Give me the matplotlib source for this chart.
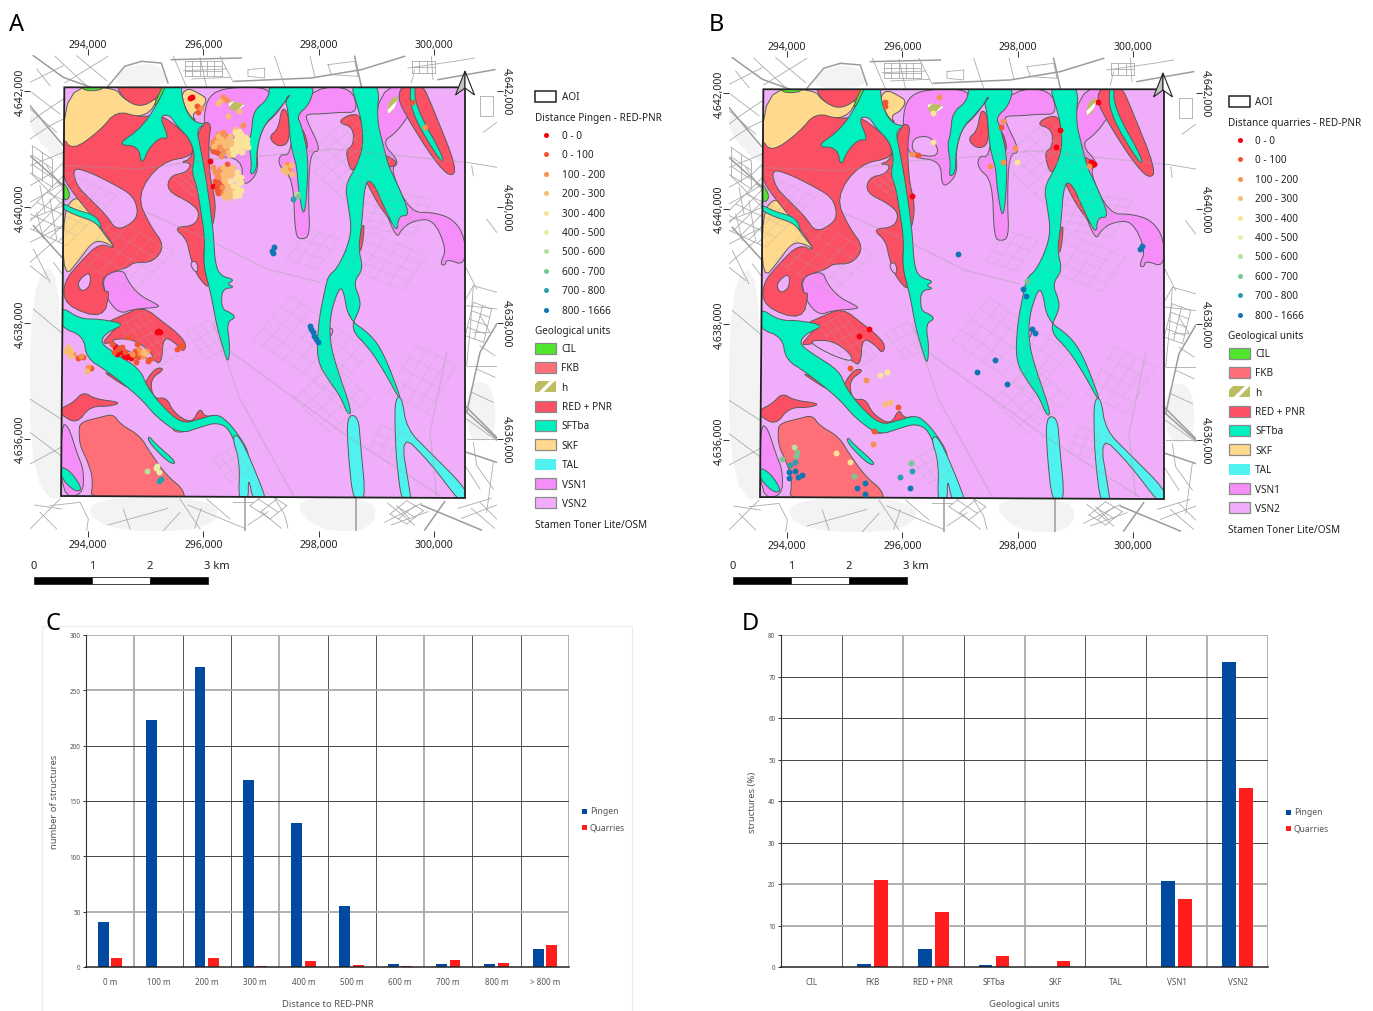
import matplotlib
matplotlib.use('Agg')
import matplotlib.pyplot as plt
from matplotlib.patches import Polygon, Rectangle
from matplotlib.ticker import FuncFormatter
from matplotlib.transforms import ScaledTranslation

plt.rcParams['font.family'] = ['Noto Sans', 'DejaVu Sans']
plt.rcParams['hatch.linewidth'] = 2.5

W, H = 1373, 1012

# ---------- bar chart data ----------
dist_labels = ['0 m', '100 m', '200 m', '300 m', '400 m', '500 m', '600 m', '700 m', '800 m', '> 800 m']
dist_pingen = [41, 223, 271, 169, 130, 55, 3, 3, 3, 16]
dist_quarries = [8, 0, 8, 1, 5, 2, 1, 6, 4, 20]

unit_labels = ['CIL', 'FKB', 'RED + PNR', 'SFTba', 'SKF', 'TAL', 'VSN1', 'VSN2']
unit_pingen = [0, 0.7, 4.3, 0.4, 0, 0, 20.7, 73.4]
unit_quarries = [0, 20.9, 13.2, 2.7, 1.4, 0, 16.3, 43.2]

# ---------- legend data ----------
class_labels = ['0 - 0', '0 - 100', '100 - 200', '200 - 300', '300 - 400', '400 - 500',
                '500 - 600', '600 - 700', '700 - 800', '800 - 1666']
class_colors = ['#f5000f', '#f0562f', '#f8914f', '#f8bd72', '#fbe39a', '#e6f0ac',
                '#b5e19c', '#78c795', '#2b9fb0', '#0f76b6']
unit_names = ['CIL', 'FKB', 'h', 'RED + PNR', 'SFTba', 'SKF', 'TAL', 'VSN1', 'VSN2']
unit_colors = ['#4fe62c', '#ff6f78', '#bcbc60', '#fb5064', '#00f0c0', '#ffd98c', '#50f2f0', '#f58ef8', '#f0aefa']

# ---------- map data, digitised on a 3x copy of panel A ----------
AOI = [(193, 265), (1395, 265), (1395, 1497), (183, 1491)]

VSN1 = [
    [(610, 360), (625, 290), (680, 265), (815, 265), (800, 320), (770, 345), (870, 285), (830, 345), (790, 380), (770, 450), (775, 515), (750, 550), (728, 555), (725, 480), (640, 470), (620, 430)],
    [(885, 350), (945, 265), (1055, 265), (1075, 340), (1020, 340), (960, 345), (925, 345), (915, 355), (965, 455), (930, 460), (925, 600), (930, 710), (905, 722), (885, 710), (880, 540), (835, 500), (840, 465), (870, 470)],
    [(1140, 265), (1230, 265), (1240, 330), (1190, 400), (1145, 430), (1200, 490), (1170, 510), (1230, 640), (1300, 640), (1360, 660), (1395, 715), (1395, 800), (1340, 780), (1335, 800), (1320, 795), (1340, 750), (1300, 660), (1240, 665), (1205, 690), (1190, 720), (1150, 620), (1120, 560), (1100, 500)],
    [(305, 830), (370, 810), (385, 850), (420, 890), (470, 915), (480, 925), (400, 930), (360, 945), (320, 900)],
    [(184, 1275), (205, 1280), (230, 1360), (252, 1415), (248, 1490), (183, 1491)],
    [(985, 985), (1000, 990), (995, 1010), (985, 1012)],
]
SKF = [
    [(193, 265), (345, 265), (370, 300), (420, 320), (480, 290), (440, 355), (350, 345), (290, 405), (218, 460), (222, 510), (193, 530)],
    [(190, 640), (225, 590), (260, 620), (300, 690), (352, 755), (320, 730), (280, 725), (240, 780), (190, 840)],
    [(545, 285), (565, 267), (600, 285), (622, 300), (606, 330), (575, 345), (590, 370), (565, 345), (550, 310)],
    [(595, 395), (610, 400), (612, 425), (600, 420)],
    [(515, 1270), (525, 1290), (560, 1298), (520, 1300)],
]
RED = [
    [(345, 250), (500, 250), (470, 300), (420, 325), (370, 300)],
    [(185, 410), (217, 455), (300, 395), (350, 335), (420, 355), (480, 345), (540, 390), (570, 420), (585, 470), (480, 490), (410, 590), (450, 680), (495, 740), (460, 790), (400, 790), (385, 805), (305, 830), (312, 880), (330, 875), (310, 960), (195, 920), (190, 850), (240, 790), (300, 730), (352, 755), (300, 680), (225, 590), (185, 530)],
    [(500, 575), (510, 530), (560, 520), (575, 492), (540, 490), (575, 480), (605, 370), (635, 372), (625, 430), (630, 540), (648, 610), (640, 680), (615, 720), (610, 800), (632, 875), (590, 830), (570, 770), (560, 720), (520, 685), (585, 680), (600, 640), (570, 610)],
    [(845, 325), (865, 340), (870, 430), (835, 445), (805, 415), (835, 390)],
    [(890, 385), (910, 390), (925, 440), (915, 460)],
    [(1012, 370), (1050, 345), (1085, 350), (1090, 440), (1078, 485), (1055, 525), (1035, 455), (1060, 440), (1060, 385)],
    [(1140, 460), (1197, 490), (1165, 510)],
    [(1095, 540), (1130, 545), (1200, 700), (1140, 625), (1110, 570)],
    [(1078, 705), (1095, 665), (1085, 760), (1070, 750)],
    [(1190, 295), (1215, 250), (1265, 250), (1300, 330), (1372, 510), (1350, 535), (1300, 480), (1230, 370)],
    [(305, 1035), (330, 1005), (360, 975), (320, 970), (365, 950), (430, 922), (490, 970), (530, 1000), (560, 1035), (550, 1060), (530, 1035), (490, 1010), (485, 1095), (460, 1085), (400, 1020), (340, 1030)],
    [(495, 1110), (450, 1140), (460, 1200), (500, 1195), (520, 1240), (575, 1275), (600, 1225), (615, 1255), (655, 1245), (575, 1290), (520, 1280), (440, 1215), (370, 1145), (295, 1110), (420, 1190), (440, 1140), (470, 1105)],
    [(180, 1230), (220, 1210), (250, 1178), (285, 1200), (365, 1210), (330, 1222), (270, 1222), (230, 1275), (180, 1245)],
]
FKB = [
    [(237, 1300), (240, 1270), (300, 1255), (340, 1245), (360, 1275), (420, 1310), (450, 1360), (500, 1430), (550, 1470), (555, 1510), (270, 1510), (280, 1440), (260, 1380), (240, 1340)],
]
SFT = [
    [(497, 250), (470, 320), (420, 390), (350, 438), (415, 440), (425, 500), (445, 450), (480, 415), (508, 420), (478, 350), (510, 348), (530, 380), (570, 420), (585, 470), (575, 520), (590, 560), (600, 620), (615, 720), (610, 800), (632, 880), (650, 980), (670, 1050), (685, 1095), (690, 1040), (680, 970), (708, 955), (690, 940), (665, 930), (665, 870), (705, 865), (680, 855), (705, 842), (660, 830), (645, 790), (640, 700), (630, 620), (615, 520), (600, 440), (590, 390), (618, 375), (585, 370), (560, 340), (545, 290), (545, 250)],
    [(810, 250), (805, 300), (760, 335), (755, 400), (745, 430), (755, 490), (750, 530), (770, 515), (770, 450), (790, 380), (830, 340), (875, 283), (855, 300), (865, 340), (870, 420), (880, 470), (890, 500), (895, 570), (910, 655), (920, 600), (925, 470), (905, 380), (890, 350), (930, 315), (945, 250)],
    [(1050, 250), (1072, 320), (1085, 370), (1090, 440), (1070, 500), (1035, 560), (1045, 620), (1055, 690), (1040, 750), (1010, 810), (985, 830), (975, 870), (955, 970), (950, 1085), (990, 1150), (1020, 1190), (1045, 1250), (1055, 1235), (1010, 1105), (990, 1030), (990, 950), (1015, 870), (1030, 870), (1045, 960), (1110, 1005), (1150, 1060), (1202, 1195), (1195, 1195), (1160, 1130), (1110, 1050), (1050, 990), (1080, 930), (1080, 900), (1060, 850), (1090, 810), (1075, 750), (1085, 680), (1095, 545), (1120, 550), (1150, 620), (1192, 705), (1195, 650), (1232, 650), (1190, 550), (1165, 500), (1150, 440), (1130, 360), (1140, 250)],
    [(1232, 250), (1245, 250), (1245, 320), (1335, 482), (1320, 488), (1230, 335)],
    [(180, 920), (240, 960), (300, 960), (378, 975), (320, 1000), (300, 1030), (340, 1060), (420, 1110), (440, 1160), (480, 1215), (545, 1275), (600, 1260), (650, 1245), (680, 1265), (710, 1300), (748, 1360), (745, 1420), (720, 1380), (690, 1290), (650, 1270), (600, 1285), (540, 1305), (470, 1255), (420, 1195), (320, 1115), (260, 1078), (250, 1010), (180, 985)],
    [(448, 1312), (462, 1330), (532, 1392), (510, 1394), (460, 1345), (443, 1320)],
    [(180, 1400), (215, 1420), (248, 1472), (225, 1478), (185, 1440)],
    [(185, 610), (225, 632), (292, 650), (308, 698), (285, 668), (225, 648), (185, 628)],
]
TAL = [
    [(695, 1310), (720, 1310), (780, 1450), (800, 1510), (760, 1510), (745, 1430), (745, 1510), (715, 1510), (720, 1390)],
    [(1040, 1250), (1075, 1250), (1082, 1340), (1098, 1510), (1060, 1510), (1045, 1370)],
    [(1185, 1200), (1205, 1190), (1220, 1290), (1290, 1360), (1400, 1470), (1400, 1510), (1380, 1510), (1290, 1390), (1200, 1300), (1232, 1490), (1232, 1510), (1205, 1510), (1190, 1390), (1185, 1300)],
]
# pale lobes that cut into the red unit
VSN2_LOBES = [
    [(217, 505), (270, 520), (340, 555), (400, 590), (415, 640), (400, 670), (350, 695), (320, 650), (270, 600), (230, 560)],
    [(230, 850), (270, 815), (272, 860), (245, 880)],
    [(335, 1020), (400, 1020), (455, 1060), (460, 1085), (400, 1065), (345, 1035)],
    [(570, 790), (590, 785), (595, 820), (580, 815)],
    [(640, 410), (700, 405), (725, 470), (640, 460)],
]
H_UNIT = [
    [(685, 305), (740, 315), (710, 335), (690, 335)],
    [(1160, 340), (1170, 300), (1195, 290), (1190, 310), (1175, 345)],
]
CIL = [
    [(245, 255), (320, 255), (300, 275), (250, 275)],
    [(500, 255), (470, 318), (462, 318), (490, 255)],
    [(185, 540), (215, 590), (190, 610)],
]

BACKGROUND = [
    [(90, 320), (190, 440), (190, 500), (90, 400)],
    [(90, 840), (183, 790), (183, 1380), (250, 1495), (90, 1500)],
    [(250, 1495), (660, 1495), (640, 1596), (300, 1596)],
    [(870, 1495), (1130, 1495), (1120, 1596), (950, 1596)],
    [(330, 262), (375, 200), (480, 192), (510, 262)],
    [(1400, 1150), (1480, 1150), (1490, 1320), (1400, 1330)],
]
MAJOR_ROADS = [
    [(100, 170), (190, 235), (300, 275)], [(324, 262), (374, 202), (424, 187), (484, 192), (504, 252)], [(514, 182), (724, 177)],
    [(704, 247), (934, 237), (1084, 212), (1214, 172)], [(1064, 172), (1084, 262)], [(1314, 242), (1484, 212)],
    [(90, 320), (190, 440)], [(90, 470), (190, 560)], [(100, 680), (190, 780)],
    [(1400, 1240), (1440, 1060), (1490, 975)], [(1400, 1360), (1490, 1390)], [(1395, 1220), (1490, 1315)], [(1400, 1240), (1490, 1320)],
    [(1264, 1518), (1444, 1593)], [(1334, 1508), (1274, 1593)], [(734, 1495), (734, 1595)], [(1068, 1495), (1068, 1595)],
    [(190, 500), (420, 510), (640, 480), (800, 470), (1000, 450), (1395, 490)], [(440, 640), (620, 720), (800, 810), (960, 850)],
    [(680, 1050), (1040, 1310), (1320, 1490)], [(640, 970), (720, 1200), (880, 1490)], [(1310, 1490), (1290, 1300), (1340, 1060)],
]
MINOR_ROADS = [
    [(165, 172), (260, 260)], [(324, 172), (194, 252)], [(90, 250), (190, 200)], [(520, 172), (560, 265)], [(600, 175), (620, 265)],
    [(824, 172), (854, 262)], [(984, 197), (1064, 187), (1074, 232), (994, 227), (984, 197)], [(1224, 207), (1364, 187), (1424, 177)],
    [(1294, 172), (1299, 242)], [(1244, 212), (1234, 252)], [(744, 212), (794, 207), (794, 237), (744, 232), (744, 212)],
    [(660, 172), (700, 250)], [(930, 172), (945, 235)], [(550, 215), (680, 210)], [(575, 240), (690, 235)], [(110, 210), (150, 260)], [(230, 170), (320, 245)],
    [(90, 370), (130, 340), (190, 300)], [(90, 420), (150, 380), (190, 360)], [(90, 520), (190, 620)], [(90, 500), (190, 460)],
    [(90, 560), (160, 520), (190, 490)], [(90, 610), (160, 570), (190, 550)], [(140, 500), (190, 570)], [(90, 660), (190, 620)],
    [(90, 730), (190, 680)], [(90, 790), (170, 720)], [(160, 790), (190, 830)], [(90, 800), (140, 840)], [(100, 750), (150, 850)],
    [(110, 640), (130, 720)], [(150, 600), (170, 720)], [(120, 560), (135, 640)], [(95, 280), (180, 345)], [(90, 330), (170, 400)],
    [(100, 930), (183, 1000)], [(90, 1300), (183, 1370)], [(90, 1200), (183, 1260)], [(90, 1395), (183, 1345)],
    [(1398, 900), (1420, 860), (1490, 880)], [(1400, 920), (1490, 930)], [(1420, 860), (1410, 1000), (1400, 1100)], [(1440, 950), (1470, 1000), (1420, 1000)],
    [(1400, 1100), (1490, 1100), (1490, 1150)], [(1400, 1260), (1490, 1325)], [(1400, 1320), (1490, 1320)], [(1420, 1330), (1430, 1400), (1480, 1470)],
    [(1480, 1390), (1460, 1540)], [(1395, 1400), (1440, 1470)], [(1440, 1040), (1485, 1070)], [(1430, 1110), (1485, 1135)], [(1415, 1180), (1480, 1210)],
    [(1460, 660), (1490, 700)], [(1400, 490), (1490, 505)], [(1415, 500), (1420, 530)], [(1440, 290), (1480, 290), (1480, 350), (1440, 350), (1440, 290)],
    [(1490, 370), (1450, 400)], [(1395, 800), (1430, 870)],
    [(90, 1590), (180, 1500)], [(104, 1518), (184, 1530)], [(150, 1520), (240, 1510), (265, 1560), (260, 1595)], [(324, 1578), (504, 1528)],
    [(370, 1530), (390, 1590)], [(490, 1595), (540, 1540)], [(540, 1500), (600, 1590)], [(564, 1518), (734, 1588)], [(584, 1588), (604, 1528)],
    [(784, 1538), (844, 1588)], [(744, 1578), (804, 1538)], [(824, 1498), (854, 1548), (864, 1588)], [(1154, 1570), (1264, 1513)],
    [(1174, 1578), (1284, 1538)], [(1164, 1513), (1244, 1578)], [(1374, 1528), (1474, 1498)], [(1384, 1558), (1490, 1518)], [(1414, 1528), (1484, 1588)],
    [(620, 1500), (690, 1560)], [(700, 1510), (760, 1510)], [(1190, 1520), (1230, 1560)], [(120, 1540), (170, 1590)], [(1440, 1510), (1490, 1560)],
]
# street blocks: corner, along vector, across vector, lines along, lines across
STREET_BLOCKS = [
    ((96, 440), (60, 40), (0, 28), 4, 3), ((555, 185), (110, 0), (0, 15), 4, 6), ((1235, 185), (70, 0), (0, 18), 3, 4), ((750, 1520), (60, 40), (25, -20), 3, 3),
    ((1170, 1545), (50, 30), (25, -20), 3, 3), ((1420, 910), (55, 20), (-6, 25), 5, 3),
    ((200, 520), (150, 70), (-30, 30), 6, 7), ((230, 780), (170, 100), (30, -30), 5, 6), ((520, 540), (60, 50), (18, -10), 4, 4),
    ((900, 480), (130, 120), (30, -25), 6, 7), ((860, 780), (90, 30), (22, -30), 4, 4), ((1120, 570), (180, 30), (-12, 22), 6, 6), ((1250, 1040), (120, 60), (-22, 35), 5, 5),
    ((760, 1020), (240, 165), (28, -32), 5, 9), ((880, 1200), (110, 100), (30, -26), 5, 5), ((1110, 700), (170, 70), (-18, 26), 5, 5), ((360, 980), (100, 130), (18, -10), 5, 6),
    ((560, 1000), (60, 80), (22, -12), 4, 4), ((1140, 1280), (90, 30), (-10, 25), 4, 4), ((640, 1380), (50, 70), (20, -12), 4, 4),
]

# points: (x, y, class), same digitised system as the polygons
PINGEN_POINTS = [
    (575, 293, 0), (570, 297, 0), (590, 320, 1), (603, 326, 2), (595, 340, 1), (660, 305, 3), (670, 293, 2), (655, 312, 3), (680, 302, 2), (685, 350, 3), (730, 377, 2), (718, 335, 3),
    (635, 440, 2), (645, 420, 2), (655, 405, 2), (668, 400, 2), (640, 455, 1), (650, 430, 3), (662, 420, 3), (672, 412, 2), (685, 425, 3), (660, 440, 2), (675, 440, 3), (690, 440, 3), (670, 455, 2), (650, 460, 1), (683, 460, 3), (662, 470, 2), (695, 450, 4),
    (640, 430, 2), (652, 445, 2), (665, 430, 3), (678, 425, 3), (690, 410, 3), (698, 430, 3), (655, 412, 3), (668, 448, 2), (642, 442, 3), (680, 450, 2), (688, 468, 3), (700, 465, 4),
    (705, 390, 3), (710, 405, 4), (722, 405, 4), (735, 415, 4), (715, 420, 4), (728, 428, 4), (742, 432, 4), (708, 435, 4), (720, 442, 4), (735, 445, 4), (712, 455, 4), (725, 458, 4),
    (704, 400, 4), (718, 395, 4), (730, 410, 4), (740, 420, 4), (708, 420, 4), (722, 430, 4), (745, 445, 4), (715, 448, 4), (730, 437, 4), (708, 445, 4),
    (630, 487, 0), (640, 560, 0), (682, 494, 1), (640, 505, 2), (655, 515, 2), (670, 505, 3), (685, 510, 3), (700, 505, 3), (650, 530, 2), (668, 525, 3), (680, 530, 3), (695, 525, 3), (712, 520, 4), (722, 535, 4), (705, 540, 4), (690, 545, 4), (672, 545, 3), (655, 550, 1), (650, 565, 1), (665, 565, 2), (685, 565, 3), (700, 560, 4), (715, 555, 4), (722, 572, 4), (705, 578, 4), (655, 582, 1), (672, 590, 3), (683, 597, 3), (718, 588, 4), (705, 590, 4),
    (645, 518, 2), (660, 510, 2), (678, 515, 3), (692, 515, 3), (658, 535, 2), (672, 535, 3), (645, 545, 1), (662, 555, 1), (680, 555, 3), (695, 570, 3), (712, 565, 4), (710, 535, 4), (722, 550, 4), (660, 575, 1), (678, 578, 3), (692, 585, 3), (668, 583, 2), (712, 578, 4), (652, 572, 1),
    (860, 495, 2), (850, 512, 3), (868, 510, 2), (875, 525, 3), (858, 520, 3), (872, 498, 3), (865, 503, 2), (855, 505, 3), (880, 600, 8), (895, 590, 7), (890, 585, 6),
    (822, 745, 9), (817, 755, 9), (818, 763, 9), (1235, 310, 1), (1275, 385, 2),
    (475, 995, 0), (470, 1000, 0), (480, 998, 0), (542, 1045, 1), (532, 1050, 1), (545, 1038, 1), (385, 1015, 1), (410, 1035, 1),
    (205, 1045, 3), (198, 1055, 3), (212, 1055, 3), (220, 1065, 2), (213, 1072, 3), (235, 1078, 1), (248, 1075, 1), (265, 1105, 2), (272, 1108, 1), (260, 1115, 3), (205, 1060, 3), (242, 1070, 2),
    (335, 1035, 1), (345, 1045, 0), (355, 1050, 1), (365, 1045, 1), (352, 1066, 0), (375, 1060, 1), (385, 1070, 0), (395, 1065, 2), (405, 1055, 1), (418, 1050, 2), (428, 1060, 3), (440, 1055, 2), (415, 1075, 1), (430, 1070, 2), (445, 1085, 1), (408, 1088, 1), (380, 1075, 0),
    (360, 1058, 0), (372, 1070, 0), (392, 1078, 0), (405, 1070, 1), (420, 1062, 2), (435, 1062, 3), (450, 1080, 1), (412, 1065, 1), (343, 1058, 1),
    (442, 1416, 6), (470, 1400, 5), (478, 1418, 5), (468, 1408, 5), (484, 1440, 8), (478, 1446, 8),
    (930, 980, 9), (934, 990, 9), (938, 1000, 9), (943, 1010, 9), (947, 1020, 9), (953, 1028, 9),
]
QUARRY_POINTS = [
    (558, 304, 1), (558, 316, 1), (1198, 304, 0), (1083, 387, 0), (1071, 439, 0), (1175, 484, 0), (1185, 490, 0), (640, 587, 0), (656, 464, 1), (905, 378, 1), (1171, 497, 2),
    (640, 459, 2), (719, 288, 2), (911, 359, 2), (948, 442, 2), (912, 484, 2), (873, 497, 2), (703, 424, 4), (953, 484, 4), (703, 336, 4),
    (778, 759, 9), (1328, 737, 9), (1323, 744, 9), (971, 865, 9), (980, 886, 9), (983, 841, 7),
    (511, 986, 0), (481, 1007, 0), (453, 1104, 1), (598, 1219, 1), (525, 1292, 1), (500, 1138, 2), (544, 1124, 4), (564, 1114, 4), (558, 1212, 3), (573, 1206, 3), (522, 1330, 2),
    (412, 1357, 4), (452, 1385, 4), (466, 1427, 7), (286, 1341, 6), (294, 1356, 7), (291, 1369, 7), (288, 1386, 8), (250, 1378, 7), (272, 1395, 8),
    (269, 1415, 9), (287, 1413, 9), (308, 1424, 9), (298, 1430, 9), (269, 1435, 9), (475, 1465, 9), (499, 1450, 9), (499, 1481, 9),
    (636, 1390, 7), (639, 1412, 8), (602, 1431, 8), (633, 1465, 9), (835, 1116, 9), (888, 1080, 9), (924, 1151, 9), (1000, 986, 9), (1008, 997, 9),
]


def to_map(x, y):
    # digitised picture position -> easting / northing
    return 294000 + (x - 264) / 0.173, 4642000 - (y - 276) / 0.17383


def map_pts(pts):
    return [to_map(p[0], p[1]) for p in pts]


def smooth(part, rounds=2):
    # corner cutting, the digitised outlines are too angular otherwise
    pts = list(part)
    for _ in range(rounds):
        new = []
        for i in range(len(pts)):
            a, b = pts[i], pts[(i + 1) % len(pts)]
            new.append((0.75 * a[0] + 0.25 * b[0], 0.75 * a[1] + 0.25 * b[1]))
            new.append((0.25 * a[0] + 0.75 * b[0], 0.25 * a[1] + 0.75 * b[1]))
        pts = new
    return pts


def px_axes(fig, left, top, right, bottom):
    return fig.add_axes([left / W, 1 - bottom / H, (right - left) / W, (bottom - top) / H])


def street_lines():
    lines = []
    for corner, along, across, n_along, n_across in STREET_BLOCKS:
        for i in range(n_along):
            s = (corner[0] + across[0] * i, corner[1] + across[1] * i)
            lines.append([s, (s[0] + along[0], s[1] + along[1])])
        step = (along[0] / max(n_across - 1, 1), along[1] / max(n_across - 1, 1))
        for j in range(n_across):
            s = (corner[0] + step[0] * j, corner[1] + step[1] * j)
            lines.append([s, (s[0] + across[0] * (n_along - 1), s[1] + across[1] * (n_along - 1))])
    return lines


def draw_roads(ax, clip=None, alpha=1.0):
    groups = [(street_lines() + MINOR_ROADS, '#ababab', 0.6), (MAJOR_ROADS, '#9c9c9c', 1.1)]
    for roads, col, lw in groups:
        for road in roads:
            xs, ys = zip(*map_pts(road))
            l, = ax.plot(xs, ys, color=col, lw=lw, alpha=alpha, zorder=1 if clip is None else 8)
            if clip is not None:
                l.set_clip_path(clip)


def draw_map(ax, points):
    ax.set_xlim(to_map(90, 0)[0], to_map(1491, 0)[0])
    ax.set_ylim(to_map(0, 1596)[1], to_map(0, 168)[1])

    for part in BACKGROUND:
        ax.add_patch(Polygon(map_pts(smooth(part)), fc='#f3f3f3', ec='none', zorder=0))
    draw_roads(ax)

    aoi = Polygon(map_pts(AOI), fc=unit_colors[8], ec='none', zorder=2)
    ax.add_patch(aoi)

    layers = [(VSN1, unit_colors[7]), (SKF, unit_colors[5]), (RED, unit_colors[3]), (FKB, unit_colors[1]),
              (SFT, unit_colors[4]), (TAL, unit_colors[6]), (VSN2_LOBES, unit_colors[8]), (CIL, unit_colors[0])]
    for polys, col in layers:
        for part in polys:
            p = Polygon(map_pts(smooth(part)), fc=col, ec='#5a5a5a', lw=0.7, zorder=3)
            ax.add_patch(p)
            p.set_clip_path(aoi.get_path(), aoi.get_transform())
    for part in H_UNIT:
        ax.add_patch(Polygon(map_pts(smooth(part, 1)), fc=unit_colors[2], ec='white', hatch='//', lw=0, zorder=4))

    clip = Polygon(map_pts(AOI), transform=ax.transData)
    draw_roads(ax, clip=clip, alpha=0.3)

    ax.add_patch(Polygon(map_pts(AOI), fc='none', ec='#222222', lw=1.3, zorder=9))

    for k in range(len(class_labels)):
        pts = [p for p in points if p[2] == k]
        if pts:
            xs, ys = zip(*map_pts(pts))
            ax.scatter(xs, ys, s=18, color=class_colors[k], lw=0, zorder=10)

    ax.set_xticks([294000, 296000, 298000, 300000])
    ax.set_yticks([4636000, 4638000, 4640000, 4642000])
    fmt = FuncFormatter(lambda v, pos: f'{v:,.0f}')
    ax.xaxis.set_major_formatter(fmt)
    ax.yaxis.set_major_formatter(fmt)
    ax.tick_params(axis='x', top=True, labeltop=True, bottom=True, labelbottom=True, length=4, width=0.7, pad=2, labelsize=7.5, color='#333333', labelcolor='#222222')
    ax.tick_params(axis='y', left=True, labelleft=True, right=True, labelright=True, length=4, width=0.7, pad=-1, labelsize=7.5, color='#333333', labelcolor='#222222')
    down = ScaledTranslation(0, -3 / 100, fig.dpi_scale_trans)
    for t in ax.xaxis.get_major_ticks():
        t.label2.set_transform(t.label2.get_transform() + down)
    for t in ax.yaxis.get_major_ticks():
        t.label1.set_rotation(90)
        t.label1.set_va('center')
        t.label2.set_rotation(-90)
        t.label2.set_va('center')
    for s in ax.spines.values():
        s.set_visible(False)


def draw_legend(ov, x0, y0, title):
    # x0 = swatch left, y0 = AOI row centre
    tx = x0 + 26.5
    fs = 7.2
    ov.add_patch(Rectangle((x0, y0 - 5), 21, 10.5, fc='white', ec='#222222', lw=1.1))
    ov.text(tx, y0 + 0.5, 'AOI', fontsize=fs, va='center', color='#222222')
    ov.text(x0, y0 + 21.5, title, fontsize=fs, va='center', color='#222222')
    for i, lab in enumerate(class_labels):
        y = y0 + 39 + i * 19.4
        ov.scatter([x0 + 11], [y], s=13, color=class_colors[i], lw=0)
        ov.text(tx, y + 0.5, lab, fontsize=fs, va='center', color='#222222')
    ov.text(x0, y0 + 234.5, 'Geological units', fontsize=fs, va='center', color='#222222')
    for i, lab in enumerate(unit_names):
        y = y0 + 252 + i * 19.37
        if lab == 'h':
            ov.add_patch(Rectangle((x0, y - 5.5), 21, 11, fc=unit_colors[i], ec='white', hatch='//', lw=0))
        elif lab == 'TAL':
            ov.add_patch(Rectangle((x0, y - 5.5), 21, 11, fc=unit_colors[i], ec='none'))
        else:
            ov.add_patch(Rectangle((x0, y - 5.5), 21, 11, fc=unit_colors[i], ec='#8a8a8a', lw=0.9))
        ov.text(tx, y + 0.5, lab, fontsize=fs, va='center', color='#222222')
    ov.text(x0, y0 + 428.5, 'Stamen Toner Lite/OSM', fontsize=fs, va='center', color='#222222')


def draw_scale(ov, x0):
    seg = 58
    for i, col in enumerate(['black', 'white', 'black']):
        ov.add_patch(Rectangle((x0 + i * seg, 578), seg, 6.5, fc=col, ec='#222222', lw=0.6))
    for i, lab in enumerate(['0', '1', '2']):
        ov.text(x0 + i * seg, 566.5, lab, fontsize=8, ha='center', va='center', color='#222222')
    ov.text(x0 + 170, 566.5, '3 km', fontsize=8, ha='left', va='center', color='#222222')


def draw_north(ov, x, y):
    ov.add_patch(Polygon([(x, y), (x - 9.5, y + 24), (x, y + 17)], fc='#c4c4c4', ec='#222222', lw=0.8))
    ov.add_patch(Polygon([(x, y), (x + 9.5, y + 24), (x, y + 17)], fc='white', ec='#222222', lw=0.8))


def draw_bars(ax, labels, pingen, quarries, width, ymax, ystep, ylabel, xlabel, soft_x, soft_y, ylab_x, xlab_y):
    pos = list(range(len(labels)))
    ax.bar([p - 0.14 for p in pos], pingen, width, color='#004a9f', zorder=3)
    ax.bar([p + 0.14 for p in pos], quarries, width, color='#ff1d1d', zorder=3)
    ax.set_xlim(-0.5, len(labels) - 0.5)
    ax.set_ylim(0, ymax)
    ax.set_xticks(pos)
    ax.set_xticklabels(labels)
    ax.set_yticks(range(0, ymax + 1, ystep))
    ax.tick_params(axis='x', length=0, labelsize=5.8, labelcolor='#555555', pad=7)
    ax.tick_params(axis='y', length=2.5, width=0.7, labelsize=4.6, labelcolor='#555555', pad=1.5, color='#333333')
    for i in range(1, len(labels) + 1):
        soft = i in soft_x
        ax.axvline(i - 0.5, color='#aaaaaa' if soft else '#555555', lw=1.3 if soft else 0.7, zorder=1)
    for v in range(ystep, ymax + 1, ystep):
        soft = v in soft_y
        ax.axhline(v, color='#aaaaaa' if soft else '#444444', lw=1.3 if soft else 0.7, zorder=1)
    for s in ['top', 'right']:
        ax.spines[s].set_visible(False)
    ax.spines['left'].set_color('#333333')
    ax.spines['bottom'].set_color('#222222')
    ax.spines['bottom'].set_linewidth(1.1)
    ax.spines['bottom'].set_zorder(5)
    ax.set_ylabel(ylabel, fontsize=6.8, color='#555555')
    ax.yaxis.set_label_coords(ylab_x, 0.5)
    ax.set_xlabel(xlabel, fontsize=6.8, color='#555555')
    ax.xaxis.set_label_coords(0.5, xlab_y)


fig = plt.figure(figsize=(W / 100, H / 100), dpi=100)

ax_a = px_axes(fig, 30, 56, 497, 532)
draw_map(ax_a, PINGEN_POINTS)
ax_b = px_axes(fig, 729, 58, 1196, 533)
draw_map(ax_b, QUARRY_POINTS)

ax_c = px_axes(fig, 86, 636, 569, 968)
draw_bars(ax_c, dist_labels, dist_pingen, dist_quarries, 0.225, 300, 50, 'number of structures', 'Distance to RED-PNR', [1, 4, 7, 10], [50, 250, 300], -0.055, -0.095)
ax_d = px_axes(fig, 781, 636, 1268, 968)
draw_bars(ax_d, unit_labels, unit_pingen, unit_quarries, 0.225, 80, 10, 'structures (%)', 'Geological units', [2, 4, 7, 8], [10, 20, 80], -0.05, -0.095)

# overlay in picture pixels for legends, scale bars, letters
ov = fig.add_axes([0, 0, 1, 1], zorder=20)
ov.set_xlim(0, W)
ov.set_ylim(H, 0)
ov.axis('off')
ov.patch.set_alpha(0)

ov.add_patch(Rectangle((42, 627), 590, 400, fc='none', ec='#ececec', lw=0.8))

draw_legend(ov, 535, 97, 'Distance Pingen - RED-PNR')
draw_legend(ov, 1228.5, 102, 'Distance quarries - RED-PNR')
draw_scale(ov, 34)
draw_scale(ov, 733)
draw_north(ov, 465, 72)
draw_north(ov, 1163, 74)

for x, y, lab in [(17, 25, 'A'), (716, 25, 'B'), (53, 624, 'C'), (750, 624, 'D')]:
    ov.text(x, y, lab, fontsize=17, ha='center', va='center', color='black')

for x0, y0, y1 in [(582, 812, 828), (1286, 813, 829)]:
    ov.add_patch(Rectangle((x0, y0 - 2.5), 5, 5, fc='#004a9f', ec='none'))
    ov.add_patch(Rectangle((x0, y1 - 2.5), 5, 5, fc='#ff1d1d', ec='none'))
    ov.text(x0 + 8, y0, 'Pingen', fontsize=6.2, va='center', color='#555555')
    ov.text(x0 + 8, y1, 'Quarries', fontsize=6.2, va='center', color='#555555')

fig.savefig('out.png', dpi=100)
